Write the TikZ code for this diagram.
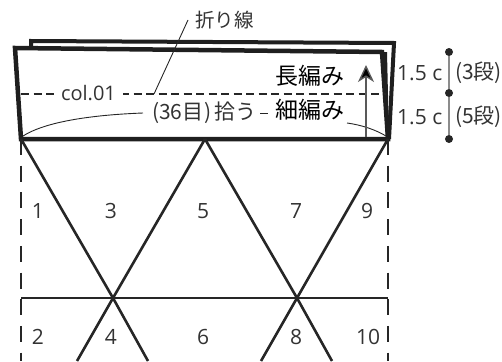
\documentclass[tikz,border=0pt]{standalone}
\usepackage{fontspec}
\setmainfont{Open Sans}
\newfontfamily\cjk{Noto Sans CJK JP}
\usetikzlibrary{positioning}
\usetikzlibrary{arrows.meta}
\definecolor{inkgray}{rgb}{0.2, 0.2, 0.2}
\definecolor{ruler}{rgb}{0.55, 0.55, 0.55}
\tikzset{
    txt/.style={inner sep=0pt, text=inkgray, font=\fontsize{21}{21}\selectfont},
    captxt/.style={inner sep=0pt, text=inkgray, font=\fontsize{21}{21}\selectfont\cjk},
    bigtxt/.style={inner sep=0pt, text=black, font=\fontsize{23}{23}\selectfont\cjk},
    edge/.style={line width=4.5pt, draw=black!88, line join=miter},
    seam/.style={line width=2.6pt, draw=black!85},
    fold/.style={line width=2.6pt, draw=black!85, dash pattern=on 8pt off 4.5pt},
    cut/.style={line width=2.6pt, draw=black!85, dash pattern=on 16pt off 10.7pt},
    thin/.style={line width=0.9pt, draw=black!85},
    dot/.style={circle, fill=black!85, inner sep=0pt, minimum size=8pt},
}

\begin{document}
\begin{tikzpicture}[x=1pt, y=-1pt]
    \useasboundingbox (0,0) rectangle (502,361);

    \coordinate (bl) at (21,139);
    \coordinate (bm) at (205,139);
    \coordinate (br) at (388,139);
    \coordinate (ml) at (21,298);
    \coordinate (xa) at (113,298);
    \coordinate (xb) at (297,298);
    \coordinate (mr) at (388,298);
    \coordinate (dl) at (21,361);
    \coordinate (dr) at (388,361);

    % cuff, back layer then front layer
    \draw[line width=4pt, draw=black!88] (31,47) -- (31,41) -- (394,43) -- (389,139);
    \draw[edge] (15,48) -- (382,52) -- (388,139) -- (21,139) -- cycle;
    \fill[black!88] (382,52) -- (387,52) -- (389,139) -- (386,139) -- cycle;

    % fold line
    \coordinate (fl) at (21,94);
    \coordinate (fr) at (386,94);
    \coordinate (ft) at (154,94);
    \draw[fold] (fl) -- (fr);
    \node[txt, fill=white, inner xsep=7pt, inner ysep=1pt, font=\fontsize{20}{20}\selectfont] (col) at (88.5,93) {col.01};

    % grid of the body
    \draw[cut] (bl) -- (dl);
    \draw[cut] (br) -- (dr);
    \draw[seam] (ml) -- (mr);
    \draw[seam] (bl) -- (xa) -- (148,361);
    \draw[seam] (bm) -- (xa) -- (77,361);
    \draw[seam] (bm) -- (xb) -- (332,361);
    \draw[seam] (br) -- (xb) -- (261,361);

    \node[txt] (n1) at (38,211) {1};
    \node[txt] (n3) at (111,211) {3};
    \node[txt] (n5) at (203,211) {5};
    \node[txt] (n7) at (296,211) {7};
    \node[txt] (n9) at (367,211) {9};
    \node[txt] (n2) at (38,337) {2};
    \node[txt] (n4) at (111,337) {4};
    \node[txt] (n6) at (203,337) {6};
    \node[txt] (n8) at (296,337) {8};
    \node[txt] (n10) at (368,337) {10};

    % labels on the cuff
    \node[captxt, anchor=west, font=\fontsize{19.5}{20}\selectfont\cjk] (orisen) at (195,20) {折り線};
    \draw[thin] (188,20) -- (ft);

    \node[captxt, anchor=west] (hiro) at (152,113) {(36目\kern1pt)\kern3pt 拾う};
    \draw[thin] (143,113) .. controls (90,115) and (45,122) .. (23,136);
    \draw[thin] (347,123) .. controls (362,125) and (376,130) .. (386,136);
    \draw[thin] (260,113) -- (268,113);

    \node[bigtxt, anchor=west] (naga) at (275,76) {長編み};
    \node[bigtxt, anchor=west] (hoso) at (275,110) {細編み};
    \coordinate (ab) at (366,137);
    \coordinate (at) at (366,65);
    \draw[-{Stealth[length=17pt, width=16pt, inset=5pt, fill=black]}, line width=1.4pt, draw=black!65] (ab) -- (at);

    % ruler on the right
    \node[dot] (ra) at (449,52) {};
    \node[dot] (rb) at (449,93) {};
    \node[dot] (rc) at (449,139) {};
    \draw[line width=1.8pt, draw=ruler] (ra) -- (rb);
    \draw[line width=1.8pt, draw=ruler] (rb) -- (rc);

    \node[txt, anchor=west] (ca) at (397,73) {1.5 c};
    \node[txt, anchor=west] (cb) at (397,117) {1.5 c};
    \node[captxt, anchor=west] (da) at (455,73) {(3段)};
    \node[captxt, anchor=west] (db) at (455,117) {(5段)};
\end{tikzpicture}
\end{document}
